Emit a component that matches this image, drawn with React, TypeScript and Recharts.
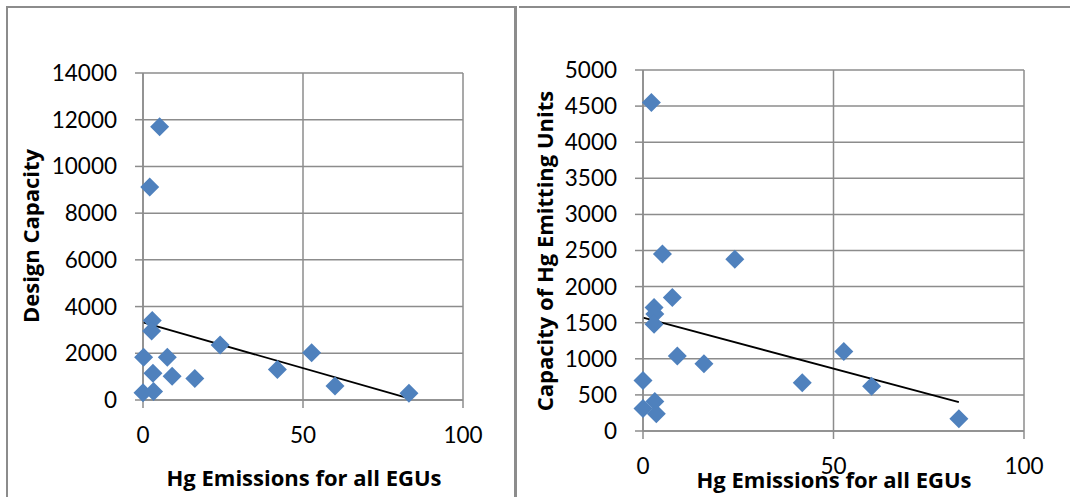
import React from "react";
import { CartesianGrid, ReferenceLine, Scatter, ScatterChart, XAxis, YAxis } from "recharts";

// Hg emissions (x) vs design capacity (y), left panel
const emissionsA = [5.2, 2.1, 2.9, 2.7, 0.2, 7.6, 3.1, 9.1, 16.2, 24.1, 42.0, 52.7, 60.0, 83.1, 0, 3.3];
const designCapacity = [11700, 9120, 3400, 2950, 1830, 1830, 1150, 1020, 920, 2350, 1310, 2020, 600, 290, 310, 360];

// Hg emissions (x) vs capacity of Hg emitting units (y), right panel
const emissionsB = [2.2, 5.1, 24.1, 7.7, 2.9, 3.1, 2.9, 9.0, 16.0, 0, 0, 3.1, 3.5, 41.8, 52.7, 60.0, 82.9];
const hgCapacity = [4550, 2450, 2380, 1850, 1710, 1620, 1480, 1040, 930, 700, 310, 410, 240, 670, 1100, 620, 170];

// linear trendline endpoints as drawn
const trendA = [{ x: 0, y: 3320 }, { x: 83.1, y: 70 }];
const trendB = [{ x: 0, y: 1570 }, { x: 82.9, y: 400 }];

const xTicks = [0, 50, 100];
const yTicksA = [0, 2000, 4000, 6000, 8000, 10000, 12000, 14000];
const yTicksB = [0, 500, 1000, 1500, 2000, 2500, 3000, 3500, 4000, 4500, 5000];

const pointsA = emissionsA.map((x, i) => ({ x, y: designCapacity[i] }));
const pointsB = emissionsB.map((x, i) => ({ x, y: hgCapacity[i] }));

const FONT = "Lato, 'Open Sans', sans-serif";
const TITLE_FONT = "'Open Sans', Lato, sans-serif";
const GRID = "#8c8c8c";
const BLUE = "#4f81bd";

const Diamond = (props: any) => {
  const { cx, cy } = props;
  const r = 9.5;
  return <polygon points={`${cx},${cy - r} ${cx + r},${cy} ${cx},${cy + r} ${cx - r},${cy}`} fill={BLUE} />;
};

const tickStyle = { fill: "#000", fontSize: 22.5, fontFamily: FONT };

function Title({ text, x, y, rotate }: { text: string; x: number; y: number; rotate?: boolean }) {
  return (
    <div
      style={{
        position: "absolute",
        left: x,
        top: y,
        transform: `translate(-50%, -50%)${rotate ? " rotate(-90deg)" : ""}`,
        whiteSpace: "nowrap",
        fontFamily: TITLE_FONT,
        fontWeight: 700,
        fontSize: 22,
        lineHeight: 1,
        color: "#000",
      }}
    >
      {text}
    </div>
  );
}

function Panel({
  data, trend, yTicks, yMax, width, height, margin, yWidth, xHeight,
}: any) {
  return (
    <ScatterChart width={width} height={height} margin={margin}>
      <CartesianGrid stroke={GRID} strokeWidth={1.5} />
      <XAxis
        type="number"
        dataKey="x"
        domain={[0, 100]}
        ticks={xTicks}
        height={xHeight}
        tickSize={8}
        tickMargin={19}
        axisLine={{ stroke: GRID, strokeWidth: 1.5 }}
        tickLine={{ stroke: GRID, strokeWidth: 1.5 }}
        tick={tickStyle}
      />
      <YAxis
        type="number"
        dataKey="y"
        domain={[0, yMax]}
        ticks={yTicks}
        width={yWidth}
        tickSize={8}
        tickMargin={18}
        axisLine={{ stroke: GRID, strokeWidth: 1.5 }}
        tickLine={{ stroke: GRID, strokeWidth: 1.5 }}
        tick={tickStyle}
      />
      <Scatter data={data} shape={Diamond} isAnimationActive={false} />
      <ReferenceLine segment={trend} stroke="#000" strokeWidth={1.8} />
    </ScatterChart>
  );
}

export default function App() {
  return (
    <div style={{ position: "absolute", left: 0, top: 0, width: 1070, height: 497, background: "#fff", overflow: "hidden" }}>
      <div style={{ position: "absolute", left: 6, top: 6, width: 506, height: 500, borderLeft: `2px solid ${GRID}`, borderTop: `2px solid ${GRID}`, borderRight: `3.5px solid ${GRID}` }} />
      <div style={{ position: "absolute", left: 519, top: 6, width: 560, height: 500, borderTop: `2px solid ${GRID}` }} />
      <div style={{ position: "absolute", left: 0, top: 0 }}>
        <Panel
          data={pointsA}
          trend={trendA}
          yTicks={yTicksA}
          yMax={14000}
          width={515}
          height={497}
          margin={{ top: 73, right: 52, left: 0, bottom: 0 }}
          yWidth={143}
          xHeight={97}
        />
      </div>
      <div style={{ position: "absolute", left: 520, top: 0 }}>
        <Panel
          data={pointsB}
          trend={trendB}
          yTicks={yTicksB}
          yMax={5000}
          width={550}
          height={497}
          margin={{ top: 70, right: 46, left: 0, bottom: 0 }}
          yWidth={123}
          xHeight={66}
        />
      </div>
      <Title text="Design Capacity" x={29.5} y={236} rotate />
      <Title text="Hg Emissions for all EGUs" x={304} y={477} />
      <Title text="Capacity of Hg Emitting Units" x={544} y={251} rotate />
      <Title text="Hg Emissions for all EGUs" x={834} y={479} />
    </div>
  );
}
